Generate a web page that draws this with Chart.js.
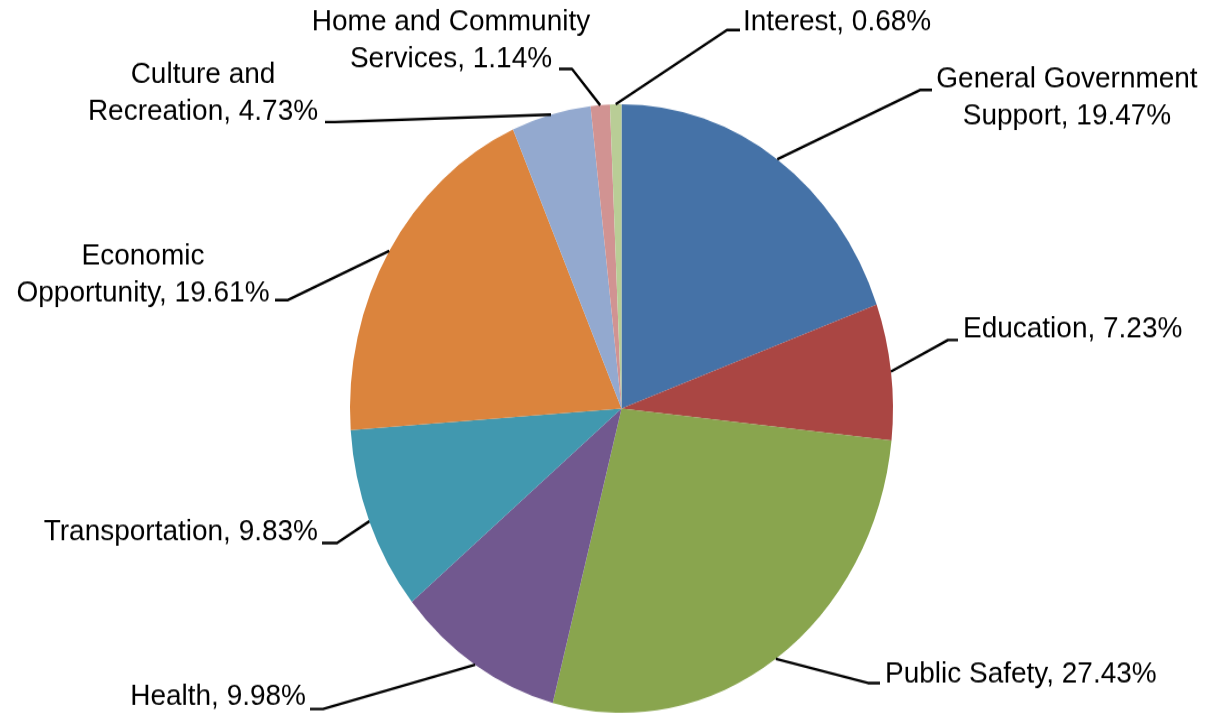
<!DOCTYPE html>
<html>
<head>
<meta charset="utf-8">
<script src="https://cdn.jsdelivr.net/npm/chart.js@4"></script>
<style>
  html, body { margin: 0; padding: 0; background: #fff; }
  #outer { width: 1207px; height: 715px; position: relative; }
  #wrap { position: absolute; left: 0; top: 0; width: 1207px; height: 638px;
          transform: scaleY(1.12069); transform-origin: 0 0; }
</style>
</head>
<body>
<div id="outer"><div id="wrap"><canvas id="pieChart" width="1207" height="638"></canvas></div></div>
<script>
const categories = ['General Government Support', 'Education', 'Public Safety', 'Health',
    'Transportation', 'Economic Opportunity', 'Culture and Recreation',
    'Home and Community Services', 'Interest'];
const shares = [19.47, 7.23, 27.43, 9.98, 9.83, 19.61, 4.73, 1.14, 0.68];
const colors = ['#4572A7', '#AA4643', '#89A54E', '#71588F', '#4198AF',
    '#DB843D', '#93A9CF', '#D19392', '#B9CD96'];

// page is stretched vertically by this factor (pie looks like an ellipse)
const STRETCH = 715 / 638;

// label placement, in page pixels: words on first line, text anchor, leader end, elbow
const labelLayout = [
    { wrap: 2, align: 'center', tx: 1067, ty: 80,  ex: 932, ey: 90,  bx: 920, by: 90 },
    { wrap: 0, align: 'left',   tx: 963,  ty: 330, ex: 958, ey: 340, bx: 948, by: 340 },
    { wrap: 0, align: 'left',   tx: 885,  ty: 675, ex: 880, ey: 683, bx: 868, by: 683 },
    { wrap: 0, align: 'right',  tx: 306,  ty: 697, ex: 310, ey: 709, bx: 323, by: 709 },
    { wrap: 0, align: 'right',  tx: 318,  ty: 533, ex: 322, ey: 543, bx: 337, by: 543 },
    { wrap: 1, align: 'center', tx: 143,  ty: 257, ex: 275, ey: 300, bx: 288, by: 300 },
    { wrap: 2, align: 'center', tx: 203,  ty: 75,  ex: 325, ey: 122, bx: 335, by: 122 },
    { wrap: 3, align: 'center', tx: 451,  ty: 22,  ex: 559, ey: 69,  bx: 572, by: 69 },
    { wrap: 0, align: 'left',   tx: 743,  ty: 22,  ex: 740, ey: 30,  bx: 727, by: 30 }
];

function labelLines(i) {
    const text = categories[i] + ', ' + shares[i].toFixed(2) + '%';
    const n = labelLayout[i].wrap;
    if (!n) return [text];
    const words = text.split(' ');
    return [words.slice(0, n).join(' '), words.slice(n).join(' ')];
}

const leaderLabels = {
    id: 'leaderLabels',
    afterDatasetsDraw(chart) {
        const ctx = chart.ctx;
        const arcs = chart.getDatasetMeta(0).data;
        ctx.save();
        ctx.strokeStyle = '#000';
        ctx.lineWidth = 2.4;
        ctx.lineJoin = 'round';
        arcs.forEach(function(arc, i) {
            const p = arc.getProps(['x', 'y', 'startAngle', 'endAngle', 'outerRadius'], true);
            const mid = (p.startAngle + p.endAngle) / 2;
            const ax = p.x + p.outerRadius * Math.cos(mid);
            const ay = p.y + p.outerRadius * Math.sin(mid);
            const L = labelLayout[i];
            ctx.beginPath();
            ctx.moveTo(ax, ay);
            ctx.lineTo(L.bx, L.by / STRETCH);
            ctx.lineTo(L.ex, L.ey / STRETCH);
            ctx.stroke();
        });
        ctx.fillStyle = '#000';
        ctx.textBaseline = 'middle';
        ctx.font = (28 / STRETCH).toFixed(2) + 'px "Liberation Sans", Arial, sans-serif';
        labelLayout.forEach(function(L, i) {
            labelLines(i).forEach(function(line, k) {
                ctx.save();
                ctx.translate(L.tx, (L.ty + k * 37) / STRETCH);
                ctx.scale(STRETCH, 1);
                ctx.textAlign = L.align;
                ctx.fillText(line, 0, 0);
                ctx.restore();
            });
        });
        ctx.restore();
    }
};

new Chart(document.getElementById('pieChart'), {
    type: 'pie',
    data: {
        labels: categories,
        datasets: [{
            data: shares,
            backgroundColor: colors,
            borderWidth: 0,
            hoverOffset: 0
        }]
    },
    options: {
        responsive: false,
        animation: false,
        radius: 271.5,
        layout: { padding: { left: 350, right: 314, top: 93, bottom: 2 } },
        plugins: {
            legend: { display: false },
            tooltip: { enabled: false }
        }
    },
    plugins: [leaderLabels]
});
</script>
</body>
</html>
